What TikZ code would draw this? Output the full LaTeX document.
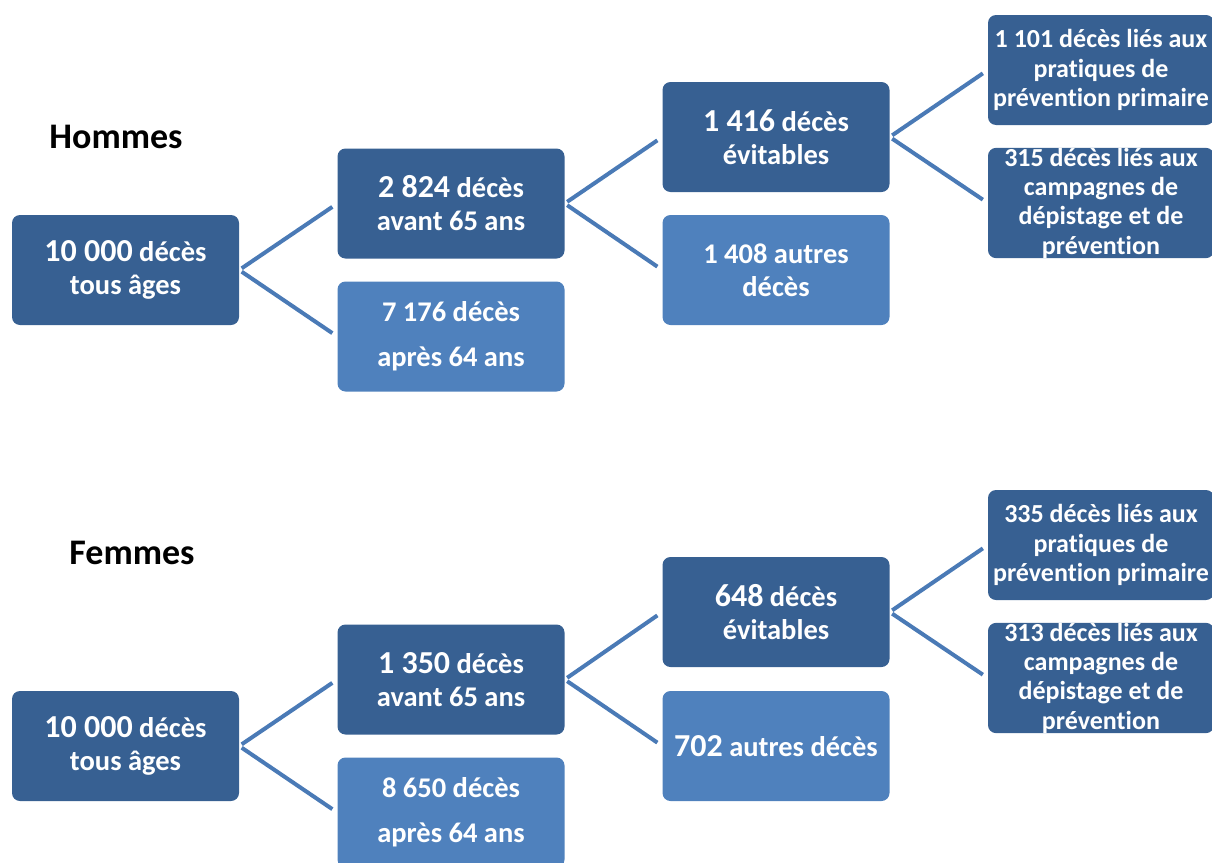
\documentclass[tikz,border=0pt]{standalone}
\usepackage{fontspec}
\setmainfont{Carlito}[Ligatures=NoCommon]
\usetikzlibrary{positioning}
\definecolor{bleuf}{RGB}{55,96,146}
\definecolor{bleuc}{RGB}{79,129,189}
\definecolor{bleul}{RGB}{74,122,182}
\newcommand{\nb}[1]{{\fontsize{32}{33}\selectfont #1}}
\tikzset{
  boite/.style={rounded corners=8pt, minimum width=227pt, minimum height=110pt, inner sep=0pt, align=center, text=white, font=\bfseries\fontsize{28.5}{33}\selectfont},
  fonce/.style={boite, fill=bleuf},
  clair/.style={boite, fill=bleuc},
  petit/.style={fonce, minimum width=226pt, font=\bfseries\fontsize{26}{29.3}\selectfont},
  titre/.style={font=\bfseries\fontsize{36}{40}\selectfont},
  lien/.style={line width=4pt, bleul, shorten <=3pt, shorten >=6pt},
}

\begin{document}
\begin{tikzpicture}[x=1pt, y=-1pt]
  \useasboundingbox (0,0) rectangle (1212,862);
  % hommes
  \node[titre] (hom) at (116,137) {Hommes};
  \node[fonce] (hA) at (125.5,270) {\nb{10 000} décès\\ tous âges};
  \node[fonce] (hB) at (451,203.5) {\nb{2 824} décès\\ avant 65 ans};
  \node[clair] (hC) at (451,336.5) {7 176 décès\\[12pt] après 64 ans};
  \node[fonce] (hD) at (776,137) {\nb{1 416} décès\\ évitables};
  \node[clair] (hE) at (776,270) {1 408 autres\\ décès};
  \node[petit] (hF) at (1101,70) {1 101 décès liés aux\\ pratiques de\\ prévention primaire};
  \node[petit] (hG) at (1101,203) {315 décès liés aux\\ campagnes de\\ dépistage et de\\ prévention};
  \draw[lien] (hA.east) -- (hB.west); \draw[lien] (hA.east) -- (hC.west);
  \draw[lien] (hB.east) -- (hD.west); \draw[lien] (hB.east) -- (hE.west);
  \draw[lien] (hD.east) -- (hF.west); \draw[lien] (hD.east) -- (hG.west);
  % femmes
  \node[titre] (fem) at (132,553) {Femmes};
  \node[fonce] (fA) at (125.5,746) {\nb{10 000} décès\\ tous âges};
  \node[fonce] (fB) at (451,679.5) {\nb{1 350} décès\\ avant 65 ans};
  \node[clair] (fC) at (451,812.5) {8 650 décès\\[12pt] après 64 ans};
  \node[fonce] (fD) at (776,612) {\nb{648} décès\\ évitables};
  \node[clair] (fE) at (776,746) {\nb{702} autres décès};
  \node[petit] (fF) at (1101,545) {335 décès liés aux\\ pratiques de\\ prévention primaire};
  \node[petit] (fG) at (1101,678) {313 décès liés aux\\ campagnes de\\ dépistage et de\\ prévention};
  \draw[lien] (fA.east) -- (fB.west); \draw[lien] (fA.east) -- (fC.west);
  \draw[lien] (fB.east) -- (fD.west); \draw[lien] (fB.east) -- (fE.west);
  \draw[lien] (fD.east) -- (fF.west); \draw[lien] (fD.east) -- (fG.west);
\end{tikzpicture}
\end{document}
